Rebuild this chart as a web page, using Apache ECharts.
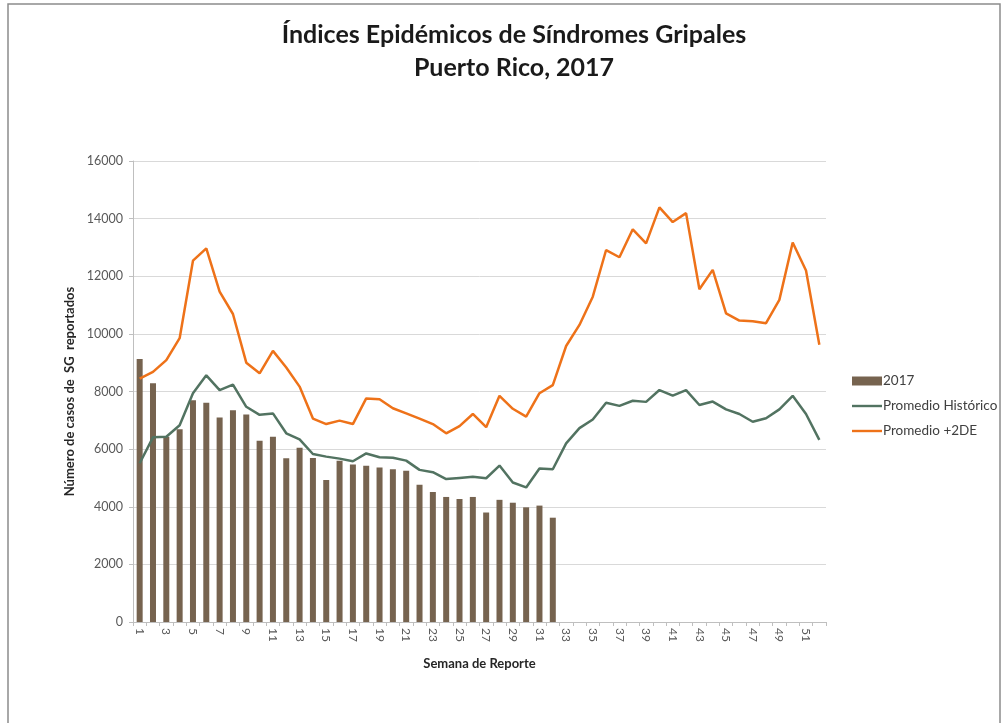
<!DOCTYPE html>
<html lang="es">
<head>
    <meta charset="UTF-8">
    <title>Síndromes Gripales PR 2017</title>
    <style>
        body { margin: 0; background: #fff; }
    </style>
</head>
<body>
<div id="main" style="width: 1004px;height: 723px;"></div>
<script src="https://cdn.jsdelivr.net/npm/echarts@6/dist/echarts.min.js"></script>
<script type="text/javascript">
    // semanas 1..52
    let semanas = [];
    for (let i = 1; i <= 52; i++) semanas.push(String(i));

    // casos 2017 (hasta semana 32)
    let casos2017 = [9130, 8290, 6430, 6690, 7700, 7610, 7100, 7350, 7200, 6290,
        6430, 5680, 6050, 5690, 4930, 5600, 5470, 5420, 5360, 5300,
        5250, 4760, 4510, 4340, 4270, 4340, 3800, 4240, 4140, 3980,
        4040, 3620];

    let promedioHistorico = [5510, 6410, 6430, 6830, 7940, 8560, 8050, 8240, 7470, 7190,
        7240, 6550, 6340, 5830, 5740, 5670, 5580, 5850, 5720, 5700,
        5600, 5280, 5200, 4960, 5000, 5040, 4990, 5430, 4840, 4670,
        5330, 5300, 6200, 6730, 7030, 7610, 7500, 7680, 7640, 8050,
        7860, 8050, 7530, 7650, 7380, 7220, 6950, 7070, 7380, 7850,
        7220, 6320];

    let promedio2DE = [8450, 8680, 9090, 9850, 12540, 12970, 11470, 10690, 9000, 8630,
        9410, 8830, 8170, 7060, 6870, 6990, 6870, 7760, 7730, 7420,
        7240, 7060, 6870, 6550, 6800, 7220, 6760, 7850, 7400, 7130,
        7940, 8220, 9580, 10310, 11290, 12910, 12660, 13630, 13140, 14390,
        13880, 14190, 11550, 12220, 10710, 10460, 10440, 10370, 11180, 13170,
        12200, 9620];

    const txtFont = 'Lato';
    const gris = '#595959';
    // icono de linea delgada para la leyenda (caja 30x9)
    const iconoLinea = 'path://M0,0L0,0M0,3.3L30,3.3L30,5.7L0,5.7ZM30,9L30,9';

    let myChart = echarts.init(document.getElementById('main'));
    const option = {
        animation: false,
        backgroundColor: '#ffffff',
        graphic: [
            {
                type: 'rect',
                shape: {x: 8, y: 4, width: 992, height: 730},
                style: {fill: 'none', stroke: '#8c8c8c', lineWidth: 1.5},
                silent: true
            },
            {
                type: 'text',
                x: 514, y: 35,
                style: {
                    text: 'Índices Epidémicos de Síndromes Gripales',
                    fontFamily: txtFont, fontWeight: 'bold', fontSize: 25,
                    fill: '#1a1a1a', align: 'center', verticalAlign: 'middle'
                }
            },
            {
                type: 'text',
                x: 514, y: 68,
                style: {
                    text: 'Puerto Rico, 2017',
                    fontFamily: txtFont, fontWeight: 'bold', fontSize: 25,
                    fill: '#1a1a1a', align: 'center', verticalAlign: 'middle'
                }
            }
        ],
        legend: {
            orient: 'vertical',
            left: 847,
            top: 369,
            itemGap: 11,
            itemWidth: 30,
            itemHeight: 9,
            textStyle: {fontFamily: txtFont, fontSize: 13.5, color: '#404040', padding: [0, 0, 0, -4]},
            data: [
                {name: '2017', icon: 'rect'},
                {name: 'Promedio Histórico', icon: iconoLinea},
                {name: 'Promedio +2DE', icon: iconoLinea}
            ]
        },
        grid: {
            left: 133,
            right: 178,
            top: 161,
            bottom: 101
        },
        xAxis: {
            type: 'category',
            data: semanas,
            name: 'Semana de Reporte',
            nameLocation: 'middle',
            nameGap: 35,
            nameTextStyle: {fontFamily: txtFont, fontWeight: 'bold', fontSize: 13, color: '#262626'},
            axisLine: {lineStyle: {color: '#bfbfbf'}},
            axisTick: {show: true, interval: 0, length: 4, lineStyle: {color: '#bfbfbf'}},
            axisLabel: {
                interval: 1,
                rotate: -90,
                margin: 6,
                fontFamily: txtFont,
                fontSize: 12,
                color: gris
            }
        },
        yAxis: {
            type: 'value',
            min: 0,
            max: 16000,
            interval: 2000,
            name: 'Número de casos de  SG  reportados',
            nameLocation: 'middle',
            nameGap: 56,
            nameTextStyle: {fontFamily: txtFont, fontWeight: 'bold', fontSize: 13, color: '#262626'},
            axisLine: {show: true, lineStyle: {color: '#bfbfbf'}},
            axisTick: {show: true, length: 4, lineStyle: {color: '#bfbfbf'}},
            axisLabel: {
                fontFamily: txtFont, fontSize: 12.5, color: gris, margin: 10,
                formatter: function (v) { return String(v); }
            },
            splitLine: {lineStyle: {color: '#d9d9d9', width: 1}}
        },
        series: [
            {
                name: '2017',
                type: 'bar',
                barWidth: '45%',
                itemStyle: {color: '#76634f'},
                data: casos2017
            },
            {
                name: 'Promedio Histórico',
                type: 'line',
                symbol: 'none',
                lineStyle: {width: 2.5, color: '#527361'},
                itemStyle: {color: '#527361'},
                data: promedioHistorico
            },
            {
                name: 'Promedio +2DE',
                type: 'line',
                symbol: 'none',
                lineStyle: {width: 2.5, color: '#ee7219'},
                itemStyle: {color: '#ee7219'},
                data: promedio2DE
            }
        ]
    };
    myChart.setOption(option);
</script>
</body>
</html>
